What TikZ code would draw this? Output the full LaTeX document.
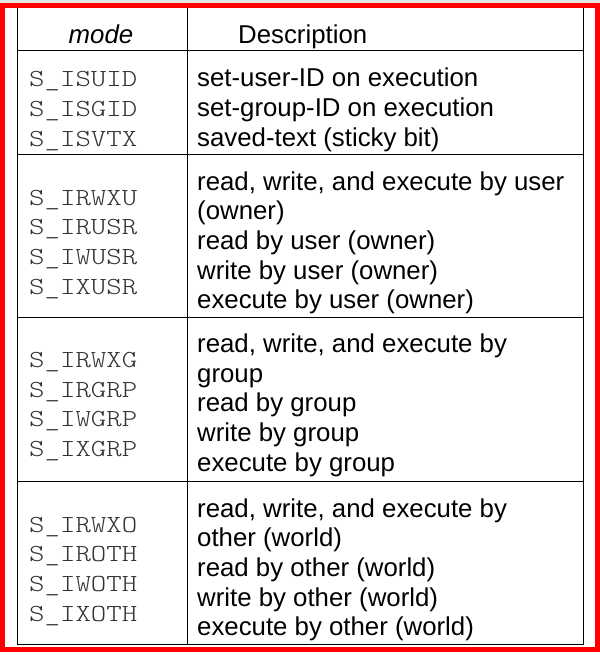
\documentclass[tikz,border=0pt]{standalone}
\usepackage{fontspec}
\setmainfont{Liberation Sans}
\newfontfamily\codefont[FakeStretch=1.2]{lmmonolt10-regular.otf}
\begin{document}
\begin{tikzpicture}[x=1bp,y=-1bp,line cap=rect,
    rule/.style={line width=1bp},
    desc/.style={anchor=base west,inner sep=0pt,font=\fontsize{25.8bp}{29.7bp}\selectfont},
    code/.style={anchor=base west,inner sep=0pt,text=black!80,font=\fontsize{24.5bp}{29.7bp}\selectfont\codefont}]
    \useasboundingbox (0,0) rectangle (600,655);
    \fill [black!10] (0,0) rectangle (600,3);
    % table rules
    \draw [rule] (17,7) rectangle (583,644);
    \draw [rule] (187,7)--(187,644);
    \foreach \y in {51,154,317,481} \draw [rule] (17,\y)--(583,\y);
    % header
    \node [desc,anchor=base] (mode) at (101,44) {\itshape mode};
    \node [desc] (descr) at (238,44) {Description};
    % special bits
    \foreach \t [count=\i] in {S\_ISUID,S\_ISGID,S\_ISVTX}
        \node [code] (bit-\i) at (29,{87+(\i-1)*29.7}) {\t};
    \foreach \t [count=\i] in {set-user-ID on execution,set-group-ID on execution,saved-text (sticky bit)}
        \node [desc] (bitd-\i) at (197,{87+(\i-1)*29.7}) {\t};
    % user
    \foreach \t [count=\i] in {S\_IRWXU,S\_IRUSR,S\_IWUSR,S\_IXUSR}
        \node [code] (usr-\i) at (29,{205+(\i-1)*29.7}) {\t};
    \foreach \t [count=\i] in {{read, write, and execute by user},(owner),read by user (owner),write by user (owner),execute by user (owner)}
        \node [desc] (usrd-\i) at (197,{190+(\i-1)*29.7}) {\t};
    % group
    \foreach \t [count=\i] in {S\_IRWXG,S\_IRGRP,S\_IWGRP,S\_IXGRP}
        \node [code] (grp-\i) at (29,{367.5+(\i-1)*29.7}) {\t};
    \foreach \t [count=\i] in {{read, write, and execute by},group,read by group,write by group,execute by group}
        \node [desc] (grpd-\i) at (197,{352.5+(\i-1)*29.7}) {\t};
    % other
    \foreach \t [count=\i] in {S\_IRWXO,S\_IROTH,S\_IWOTH,S\_IXOTH}
        \node [code] (oth-\i) at (29,{532+(\i-1)*29.7}) {\t};
    \foreach \t [count=\i] in {{read, write, and execute by},other (world),read by other (world),write by other (world),execute by other (world)}
        \node [desc] (othd-\i) at (197,{517+(\i-1)*29.7}) {\t};
    % frame
    \draw [red,line width=5bp] (2.5,5.5) rectangle (597.5,649.5);
\end{tikzpicture}
\end{document}
